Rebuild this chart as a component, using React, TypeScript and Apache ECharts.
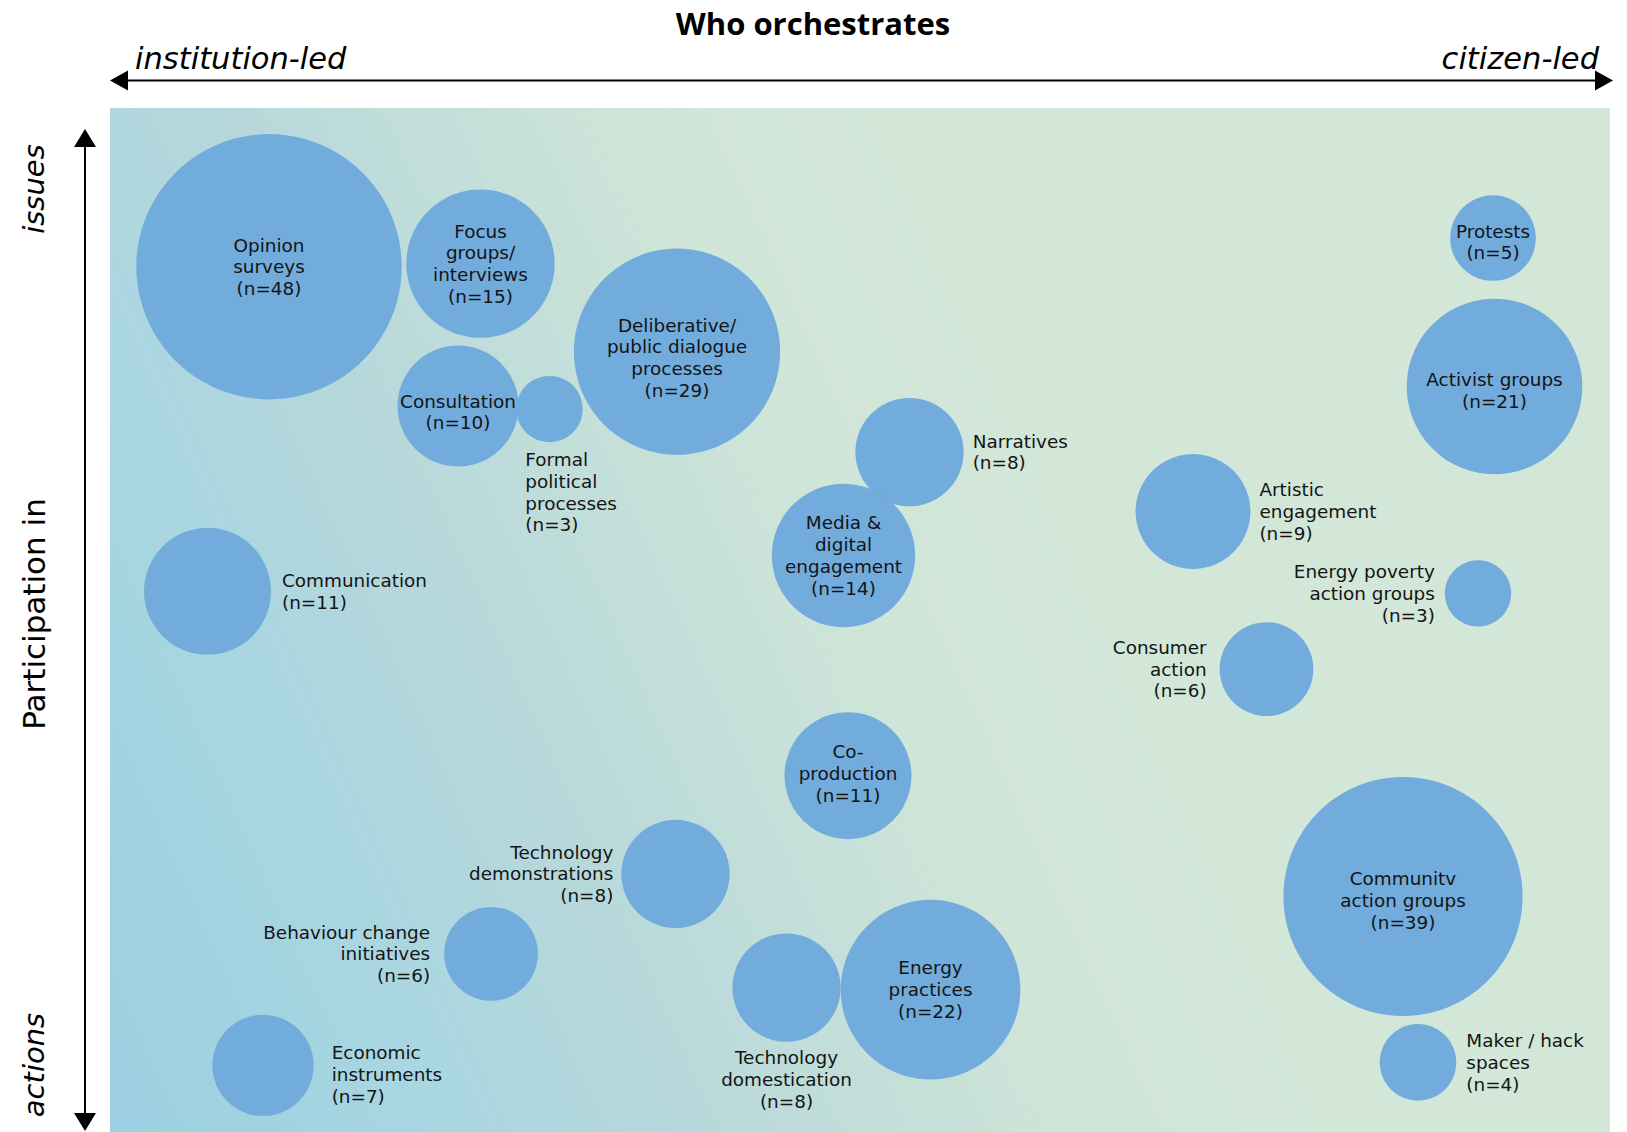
import React, { useEffect, useRef } from "react";
import * as echarts from "echarts";

// ---- Data (positions on conceptual axes: x 0 = institution-led … 100 = citizen-led,
//      y 0 = actions … 100 = issues; n = number of studies) ----
const names: string[] = [
  "Opinion\nsurveys",
  "Focus\ngroups/\ninterviews",
  "Consultation",
  "Formal\npolitical\nprocesses",
  "Deliberative/\npublic dialogue\nprocesses",
  "Narratives",
  "Media &\ndigital\nengagement",
  "Communication",
  "Protests",
  "Activist groups",
  "Artistic\nengagement",
  "Energy poverty\naction groups",
  "Consumer\naction",
  "Co-\nproduction",
  "Technology\ndemonstrations",
  "Behaviour change\ninitiatives",
  "Economic\ninstruments",
  "Technology\ndomestication",
  "Energy\npractices",
  "Communitv\naction groups",
  "Maker / hack\nspaces",
];
const xValues: number[] = [10.6, 24.7, 23.2, 29.3, 37.8, 53.3, 48.9, 6.5, 92.2, 92.3, 72.2, 91.2, 77.1, 49.2, 37.7, 25.4, 10.2, 45.1, 54.7, 86.2, 87.2];
const yValues: number[] = [84.5, 84.8, 70.9, 70.6, 76.2, 66.4, 56.3, 52.8, 87.3, 72.8, 60.6, 52.6, 45.2, 34.8, 25.2, 17.4, 6.5, 14.1, 13.9, 23.0, 6.8];
const counts: number[] = [48, 15, 10, 3, 29, 8, 14, 11, 5, 21, 9, 3, 6, 11, 8, 6, 7, 8, 22, 39, 4];

const title = "Who orchestrates";
const xStartLabel = "institution-led";
const xEndLabel = "citizen-led";
const yTitle = "Participation in";
const yTopLabel = "issues";
const yBottomLabel = "actions";

// label placement per bubble (style only)
type Place = { kind: "inside" | "right" | "left" | "bottom" | "custom"; d?: number; off?: number[]; pos?: number[] };
const placement: Place[] = [
  { kind: "inside" },
  { kind: "inside" },
  { kind: "inside", off: [0, 6] },
  { kind: "custom", pos: [9, 73] },
  { kind: "inside", off: [0, 6] },
  { kind: "right", d: 9 },
  { kind: "inside" },
  { kind: "right", d: 11 },
  { kind: "inside", off: [0, 4] },
  { kind: "inside", off: [0, 4] },
  { kind: "right", d: 9 },
  { kind: "left", d: 10 },
  { kind: "left", d: 13 },
  { kind: "inside", off: [0, -2] },
  { kind: "left", d: 8 },
  { kind: "left", d: 14 },
  { kind: "right", d: 18, off: [0, 9] },
  { kind: "bottom", d: 5 },
  { kind: "inside" },
  { kind: "inside", off: [0, 4] },
  { kind: "right", d: 10 },
];

const W = 1627;
const H = 1132;
const GRID = { left: 110, top: 108, right: 17, bottom: 0 };
const FONT = "'DejaVu Sans', 'Noto Sans', sans-serif";
const TITLE_FONT = "'Open Sans', 'Noto Sans', sans-serif";

export default function App() {
  const ref = useRef<HTMLDivElement>(null);
  useEffect(() => {
    document.body.style.margin = "0";
    if (!ref.current) return;
    const chart = echarts.init(ref.current, undefined, { renderer: "svg" });

    const data = names.map((name, i) => {
      const p = placement[i];
      const label: any = {
        show: true,
        formatter: `${name}\n(n=${counts[i]})`,
        fontFamily: FONT,
        fontSize: 18.4,
        lineHeight: 21.7,
        color: "#141414",
      };
      if (p.kind === "inside") {
        label.position = "inside";
        label.align = "center";
      } else if (p.kind === "right") {
        label.position = "right";
        label.distance = p.d;
        label.align = "left";
      } else if (p.kind === "left") {
        label.position = "left";
        label.distance = p.d;
        label.align = "right";
      } else if (p.kind === "bottom") {
        label.position = "bottom";
        label.distance = p.d;
        label.align = "center";
      } else {
        label.position = p.pos;
        label.align = "left";
        label.verticalAlign = "top";
      }
      if (p.off) label.offset = p.off;
      return { name, value: [xValues[i], yValues[i], counts[i]], label };
    });

    const gx0 = GRID.left;
    const gy0 = GRID.top;
    const gw = W - GRID.left - GRID.right;
    const gh = H - GRID.top - GRID.bottom;

    const bg = new echarts.graphic.LinearGradient(
      gx0, H, 1741, 401,
      [
        { offset: 0, color: "#9bcfe1" },
        { offset: 0.17, color: "#a9d6e1" },
        { offset: 0.3, color: "#b7d8db" },
        { offset: 0.4, color: "#c3dfd9" },
        { offset: 0.5, color: "#cfe5d8" },
        { offset: 0.62, color: "#d2e7d8" },
        { offset: 1, color: "#d2e7d8" },
      ],
      true
    );

    const textStyleBase = { fontFamily: FONT, fill: "#000" };

    chart.setOption({
      animation: false,
      grid: { left: GRID.left, top: GRID.top, right: GRID.right, bottom: GRID.bottom },
      xAxis: { type: "value", min: 0, max: 100, show: false },
      yAxis: { type: "value", min: 0, max: 100, show: false },
      graphic: [
        { type: "rect", z: -10, silent: true, shape: { x: gx0, y: gy0, width: gw, height: gh }, style: { fill: bg } },
        // horizontal arrow
        { type: "line", shape: { x1: 120, y1: 80.5, x2: 1603, y2: 80.5 }, style: { stroke: "#000", lineWidth: 2 } },
        { type: "polygon", shape: { points: [[110, 80.5], [128, 70.5], [128, 90.5]] }, style: { fill: "#000" } },
        { type: "polygon", shape: { points: [[1613, 80.5], [1595, 70.5], [1595, 90.5]] }, style: { fill: "#000" } },
        // vertical arrow
        { type: "line", shape: { x1: 85, y1: 140, x2: 85, y2: 1120 }, style: { stroke: "#000", lineWidth: 2 } },
        { type: "polygon", shape: { points: [[85, 129], [74, 147], [96, 147]] }, style: { fill: "#000" } },
        { type: "polygon", shape: { points: [[85, 1131], [74, 1113], [96, 1113]] }, style: { fill: "#000" } },
        // texts
        { type: "text", x: 813, y: 23, style: { ...textStyleBase, fontFamily: TITLE_FONT, text: title, fontSize: 31, fontWeight: "bold", align: "center", verticalAlign: "middle" } },
        { type: "text", x: 135, y: 58, style: { ...textStyleBase, text: xStartLabel, fontSize: 30.5, fontStyle: "italic", align: "left", verticalAlign: "middle" } },
        { type: "text", x: 1599, y: 58, style: { ...textStyleBase, text: xEndLabel, fontSize: 30.5, fontStyle: "italic", align: "right", verticalAlign: "middle" } },
        { type: "text", x: 34, y: 189, rotation: Math.PI / 2, style: { ...textStyleBase, text: yTopLabel, fontSize: 29, fontStyle: "italic", align: "center", verticalAlign: "middle" } },
        { type: "text", x: 34, y: 614, rotation: Math.PI / 2, style: { ...textStyleBase, text: yTitle, fontSize: 31, align: "center", verticalAlign: "middle" } },
        { type: "text", x: 34, y: 1065, rotation: Math.PI / 2, style: { ...textStyleBase, text: yBottomLabel, fontSize: 29, fontStyle: "italic", align: "center", verticalAlign: "middle" } },
      ],
      series: [
        {
          type: "scatter",
          data,
          symbol: "circle",
          symbolSize: (v: number[]) => Math.sqrt(v[2]) * 38.3,
          itemStyle: { color: "#71acdc", opacity: 1 },
          emphasis: { disabled: true },
          clip: false,
        },
      ],
    });
    return () => chart.dispose();
  }, []);
  return <div ref={ref} style={{ width: W, height: H }} />;
}
